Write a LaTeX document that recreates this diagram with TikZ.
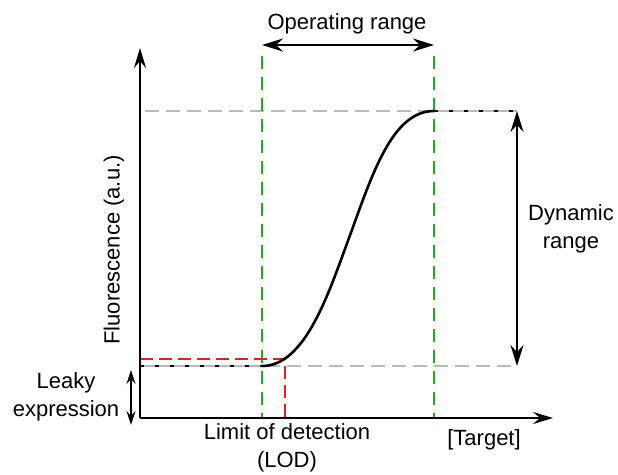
\documentclass[tikz,border=0pt]{standalone}
\usepackage{fontspec}
\setmainfont{Liberation Sans}
\usetikzlibrary{arrows.meta}
\definecolor{lgray}{RGB}{185,185,185}
\definecolor{dgreen}{RGB}{35,170,35}
\definecolor{dred}{RGB}{220,35,35}
\begin{document}
\begin{tikzpicture}[x=1pt,y=-1pt,
  lbl/.style={font=\fontsize{22}{28}\selectfont, align=center, inner sep=0pt},
  bigtip/.style={line width=2.5pt, arrows={-Stealth[length=20pt,width=12pt,inset=7pt]}},
  dbltip/.style={line width=2.5pt, arrows={Stealth[length=21pt,width=13pt,inset=7pt]-Stealth[length=21pt,width=13pt,inset=7pt]}},
  smalltip/.style={line width=1.8pt, arrows={Stealth[length=14pt,width=9pt,inset=5pt]-Stealth[length=14pt,width=9pt,inset=5pt]}},
  graydash/.style={draw=lgray, line width=2pt, dash pattern=on 14pt off 7pt},
  greendash/.style={draw=dgreen, line width=2pt, dash pattern=on 13pt off 8pt},
  reddash/.style={draw=dred, line width=2pt, dash pattern=on 13pt off 6pt},
  plateau/.style={draw=black, line width=2.5pt, dash pattern=on 4pt off 11pt},
  curvestyle/.style={line width=2.6pt, line cap=round}]
\useasboundingbox (0,0) rectangle (618,474);
% key coordinates
\coordinate (o) at (140,418);
\coordinate (ytop) at (140,48);
\coordinate (xend) at (553,418);
\coordinate (topl) at (145,111);
\coordinate (topr) at (517,111);
\coordinate (botl) at (140,366);
\coordinate (botr) at (517,366);
\coordinate (g1t) at (262,56);
\coordinate (g1b) at (262,418);
\coordinate (g2t) at (434,56);
\coordinate (g2b) at (434,418);
\coordinate (rl) at (140,359);
\coordinate (rc) at (285,359);
\coordinate (rb) at (285,418);
\coordinate (cs) at (262,366);
\coordinate (cm) at (349,238);
\coordinate (ce) at (434,111);
\coordinate (opl) at (262,45);
\coordinate (opr) at (434,45);
\coordinate (lkt) at (131,370);
\coordinate (lkb) at (131,425);
% gray guides
\draw[graydash] (topl) -- (topr);
\draw[graydash] (botl) -- (botr);
% plateaus
\draw[lgray, line width=2pt] (botl) -- (cs);
\draw[lgray, line width=2pt] (ce) -- (topr);
\draw[plateau] (botl) -- (cs);
\draw[plateau] (ce) -- (topr);
% green and red guides
\draw[greendash] (g1t) -- (g1b);
\draw[greendash] (g2t) -- (g2b);
\draw[reddash] (rl) -- (rc) -- (rb);
% sigmoid curve
\draw[curvestyle] (cs) .. controls (305,366) and (328,295) .. (cm)
  .. controls (372,175) and (392,111) .. (ce);
% axes
\draw[bigtip] (o) -- (ytop);
\draw[bigtip] (o) -- (xend);
% range arrows
\draw[dbltip] (topr) -- (botr);
\draw[dbltip] (opl) -- (opr);
\draw[smalltip] (lkt) -- (lkb);
% labels
\node[lbl] (op) at (347,24) {Operating range};
\node[lbl] (dyn) at (571,229) {Dynamic\\range};
\node[lbl] (leaky) at (66,397) {Leaky\\expression};
\node[lbl] (lod) at (287,448) {Limit of detection\\(LOD)};
\node[lbl] (target) at (484,440) {[Target]};
\node[lbl, rotate=90] (fluo) at (114,250) {Fluorescence (a.u.)};
\end{tikzpicture}
\end{document}
